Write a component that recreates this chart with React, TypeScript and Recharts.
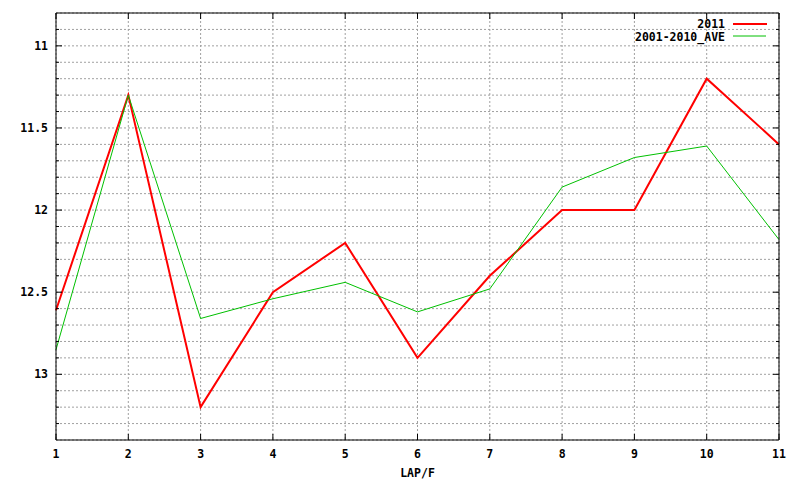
import React from "react";
import { LineChart, Line, XAxis, YAxis, CartesianGrid } from "recharts";

const laps = [1, 2, 3, 4, 5, 6, 7, 8, 9, 10, 11];
const series2011 = [12.61, 11.3, 13.2, 12.5, 12.2, 12.9, 12.4, 12.0, 12.0, 11.2, 11.6];
const seriesAve = [12.85, 11.3, 12.66, 12.54, 12.44, 12.62, 12.48, 11.86, 11.68, 11.61, 12.18];
const yTicks = [10.8, 10.9, 11, 11.1, 11.2, 11.3, 11.4, 11.5, 11.6, 11.7, 11.8, 11.9, 12, 12.1, 12.2, 12.3, 12.4, 12.5, 12.6, 12.7, 12.8, 12.9, 13, 13.1, 13.2, 13.3, 13.4];
const xTicks = [1, 2, 3, 4, 5, 6, 7, 8, 9, 10, 11];
const legendNames = ["2011", "2001-2010_AVE"];

const data = laps.map((lap, i) => ({ lap, y2011: series2011[i], ave: seriesAve[i] }));

const FONT = "'DejaVu Sans Mono', monospace";
const fontProps = { fontFamily: FONT, fontSize: 11.5, fontWeight: "bold" as const, fill: "#000" };

const isMajor = (v: number) => Math.abs(v * 2 - Math.round(v * 2)) < 1e-6;

const LeftTick = (props: any) => {
  const { x, y, payload } = props;
  const v = payload.value as number;
  const major = isMajor(v);
  const inEdge = v > 10.85 && v < 13.35;
  return (
    <g>
      {inEdge && <line x1={x} x2={x + (major ? 6 : 3)} y1={y} y2={y} stroke="#000" />}
      {major && (
        <text x={x - 8} y={y} dy={4} textAnchor="end" {...fontProps}>
          {String(Math.round(v * 10) / 10)}
        </text>
      )}
    </g>
  );
};

const RightTick = (props: any) => {
  const { x, y, payload } = props;
  const v = payload.value as number;
  const major = isMajor(v);
  const inEdge = v > 10.85 && v < 13.35;
  return <g>{inEdge && <line x1={x} x2={x - (major ? 6 : 3)} y1={y} y2={y} stroke="#000" />}</g>;
};

const BottomTick = (props: any) => {
  const { x, y, payload } = props;
  return (
    <g>
      <line x1={x} x2={x} y1={y} y2={y - 6} stroke="#000" />
      <text x={x} y={y + 18} textAnchor="middle" {...fontProps}>
        {String(payload.value)}
      </text>
    </g>
  );
};

const TopTick = (props: any) => {
  const { x, y } = props;
  return <line x1={x} x2={x} y1={y} y2={y + 6} stroke="#000" />;
};

const LegendOverlay = () => (
  <svg width={800} height={50} style={{ position: "absolute", left: 0, top: 0, display: "block", pointerEvents: "none" }}>
    <text x={725} y={27.5} textAnchor="end" {...fontProps}>{legendNames[0]}</text>
    <line x1={733} x2={767} y1={24} y2={24} stroke="#ff0000" strokeWidth={2} />
    <text x={725} y={40.5} textAnchor="end" {...fontProps}>{legendNames[1]}</text>
    <line x1={733} x2={766} y1={36} y2={36} stroke="#00c000" strokeWidth={1} />
  </svg>
);

export default function App() {
  return (
    <div style={{ position: "absolute", left: 0, top: 0, width: 800, height: 480, background: "#fff" }}>
      <LineChart width={800} height={480} data={data} margin={{ top: 0, right: 0, left: 0, bottom: 0 }}>
        <CartesianGrid stroke="#a0a0a0" strokeDasharray="2 2" />
        <XAxis
          dataKey="lap"
          type="number"
          domain={[1, 11]}
          ticks={xTicks}
          height={40}
          tickSize={0}
          tickMargin={0}
          tickLine={false}
          axisLine={{ stroke: "#000" }}
          tick={<BottomTick />}
          interval={0}
          label={{ value: "LAP/F", position: "insideBottom", offset: 3, ...fontProps }}
        />
        <XAxis
          xAxisId="top"
          dataKey="lap"
          type="number"
          orientation="top"
          domain={[1, 11]}
          ticks={xTicks}
          height={13}
          tickSize={0}
          tickMargin={0}
          tickLine={false}
          axisLine={{ stroke: "#000" }}
          tick={<TopTick />}
          interval={0}
        />
        <YAxis
          type="number"
          domain={[10.8, 13.4]}
          reversed
          ticks={yTicks}
          width={56}
          tickSize={0}
          tickMargin={0}
          tickLine={false}
          axisLine={{ stroke: "#000" }}
          tick={<LeftTick />}
          interval={0}
          allowDataOverflow
        />
        <YAxis
          yAxisId="right"
          type="number"
          orientation="right"
          domain={[10.8, 13.4]}
          reversed
          ticks={yTicks}
          width={21}
          tickSize={0}
          tickMargin={0}
          tickLine={false}
          axisLine={{ stroke: "#000" }}
          tick={<RightTick />}
          interval={0}
          allowDataOverflow
        />
        <Line
          type="linear"
          dataKey="y2011"
          name="2011"
          stroke="#ff0000"
          strokeWidth={2}
          dot={false}
          isAnimationActive={false}
        />
        <Line
          type="linear"
          dataKey="ave"
          name="2001-2010_AVE"
          stroke="#00c000"
          strokeWidth={1}
          dot={false}
          isAnimationActive={false}
        />
      </LineChart>
      <LegendOverlay />
    </div>
  );
}
